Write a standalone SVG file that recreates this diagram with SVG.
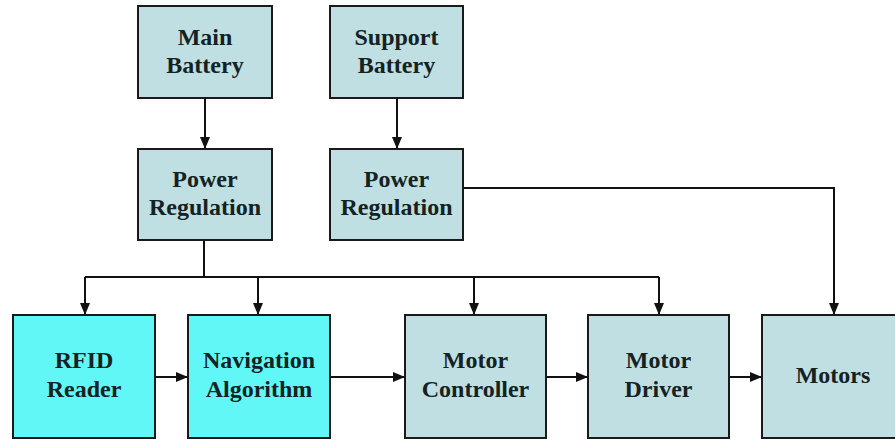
<svg xmlns="http://www.w3.org/2000/svg" width="895" height="440" viewBox="0 0 895 440">
<style>
.box{stroke:#1a1a1a;stroke-width:2}
.lt{fill:#bfdfe2}
.cy{fill:#62f7f7}
.t{font-weight:bold;font-size:24px;fill:#152222;text-anchor:middle}
.c{fill:none;stroke:#111;stroke-width:2}
</style>
<defs>
<marker id="ah" viewBox="0 0 12 10" refX="12" refY="5" markerWidth="12" markerHeight="10" markerUnits="userSpaceOnUse" orient="auto">
<path d="M0,0 L12,5 L0,10 Z" fill="#111"/>
</marker>
</defs>
<rect width="895" height="440" fill="#fff"/>
<g id="connectors">
<path class="c" d="M205,98 V149" marker-end="url(#ah)"/>
<path class="c" d="M397,98 V149" marker-end="url(#ah)"/>
<path class="c" d="M204,240 V277"/>
<path class="c" d="M85,277 H659"/>
<path class="c" d="M85,277 V315" marker-end="url(#ah)"/>
<path class="c" d="M258,277 V315" marker-end="url(#ah)"/>
<path class="c" d="M474,277 V315" marker-end="url(#ah)"/>
<path class="c" d="M659,277 V315" marker-end="url(#ah)"/>
<path class="c" d="M463,188 H834 V315" marker-end="url(#ah)"/>
<path class="c" d="M155,377 H188" marker-end="url(#ah)"/>
<path class="c" d="M330,377 H405" marker-end="url(#ah)"/>
<path class="c" d="M546,377 H588" marker-end="url(#ah)"/>
<path class="c" d="M729,377 H762" marker-end="url(#ah)"/>
</g>
<g font-family="'Liberation Serif', 'DejaVu Serif', serif">
<g id="main-battery">
<rect class="box lt" x="138" y="6" width="134" height="92"/>
<text class="t" x="205" y="45">Main</text>
<text class="t" x="205" y="73">Battery</text>
</g>
<g id="support-battery">
<rect class="box lt" x="330" y="6" width="133" height="92"/>
<text class="t" x="396.5" y="45">Support</text>
<text class="t" x="396.5" y="73">Battery</text>
</g>
<g id="power-regulation-1">
<rect class="box lt" x="138" y="149" width="134" height="91"/>
<text class="t" x="205" y="187">Power</text>
<text class="t" x="205" y="215">Regulation</text>
</g>
<g id="power-regulation-2">
<rect class="box lt" x="330" y="149" width="133" height="91"/>
<text class="t" x="396.5" y="187">Power</text>
<text class="t" x="396.5" y="215">Regulation</text>
</g>
<g id="rfid-reader">
<rect class="box cy" x="13" y="315" width="142" height="123"/>
<text class="t" x="84" y="368">RFID</text>
<text class="t" x="84" y="397">Reader</text>
</g>
<g id="navigation-algorithm">
<rect class="box cy" x="188" y="315" width="142" height="123"/>
<text class="t" x="259" y="368">Navigation</text>
<text class="t" x="259" y="397">Algorithm</text>
</g>
<g id="motor-controller">
<rect class="box lt" x="405" y="315" width="141" height="123"/>
<text class="t" x="475.5" y="368">Motor</text>
<text class="t" x="475.5" y="397">Controller</text>
</g>
<g id="motor-driver">
<rect class="box lt" x="588" y="315" width="141" height="123"/>
<text class="t" x="658.5" y="368">Motor</text>
<text class="t" x="658.5" y="397">Driver</text>
</g>
<g id="motors">
<rect class="box lt" x="762" y="315" width="145" height="123"/>
<text class="t" x="833" y="383">Motors</text>
</g>
</g>
</svg>
